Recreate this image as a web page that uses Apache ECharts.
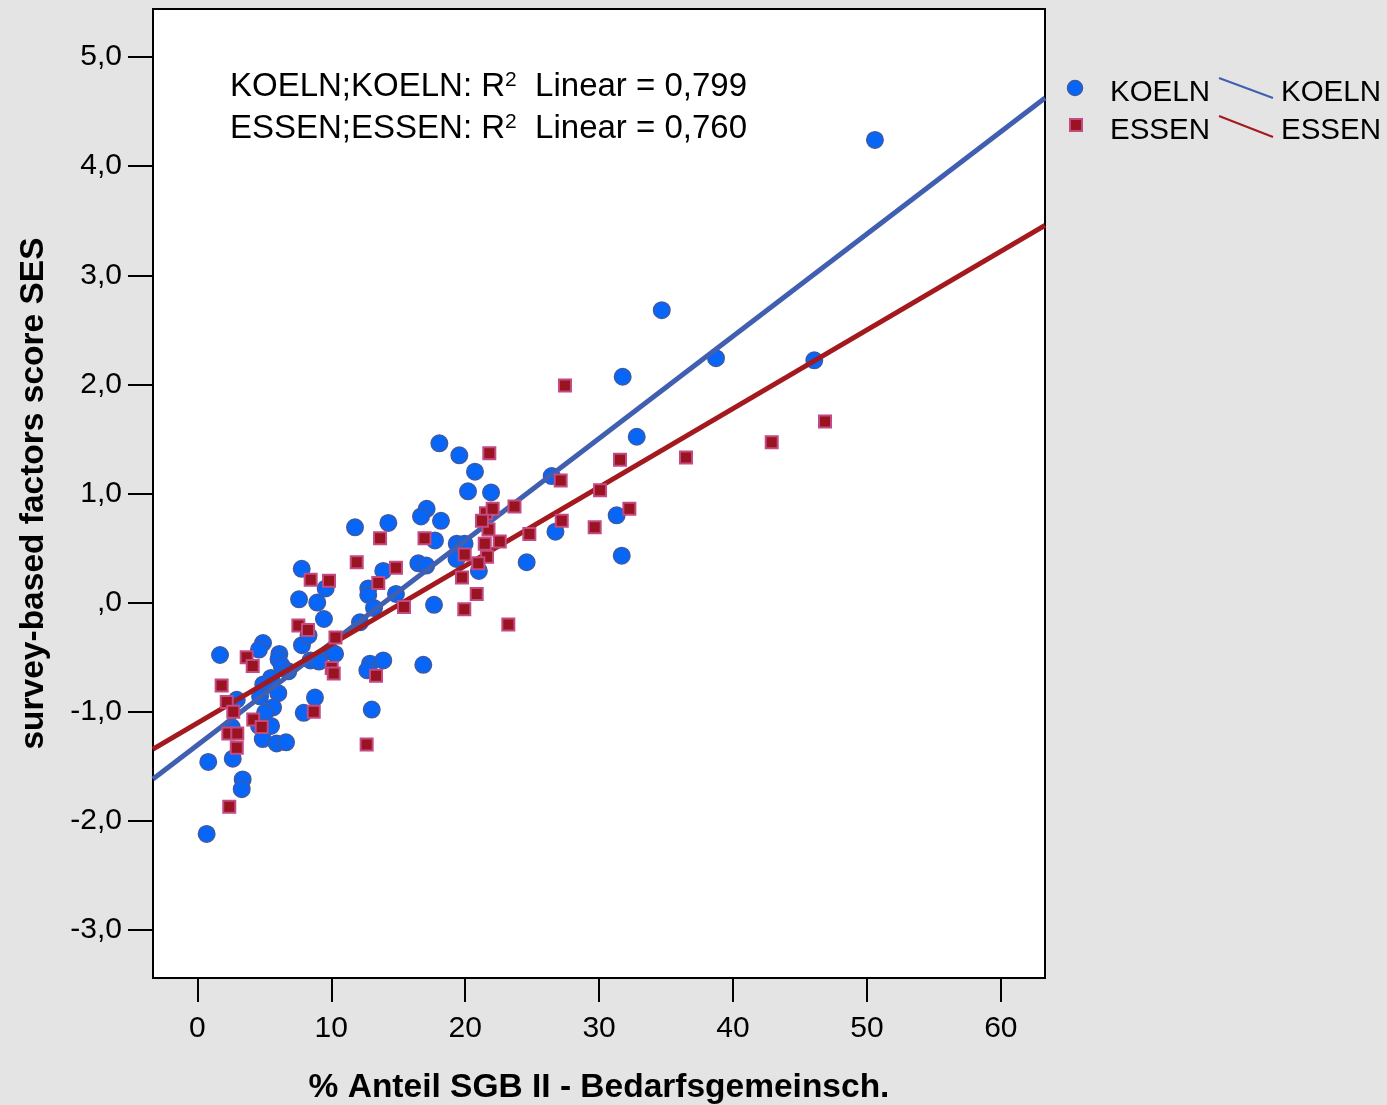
<!DOCTYPE html>
<html>
<head>
<meta charset="utf-8">
<title>SES score vs. SGB II share</title>
<script src="https://cdn.jsdelivr.net/npm/echarts@6/dist/echarts.min.js"></script>
<style>
  html, body { margin: 0; padding: 0; background: #e4e4e4; }
  #chart { width: 1387px; height: 1105px; }
</style>
</head>
<body>
<div id="chart"></div>
<script>
// KOELN districts: % share of SGB II households vs. survey-based SES factor score
const koelnX = [7.79, 9.58, 7.59, 8.95, 9.45, 1.69, 4.90, 4.60, 6.12, 6.06, 6.30, 7.81, 8.30, 9.98, 10.28,
  8.45, 9.08, 12.14, 6.79, 5.50, 4.92, 6.04, 4.68, 2.94, 8.78, 7.94, 5.65, 5.05, 2.56, 5.50,
  4.60, 4.88, 5.92, 6.62, 0.81, 2.64, 3.38, 3.31, 0.69, 17.12, 16.70, 18.19, 11.77, 14.26, 17.74,
  19.37, 19.95, 19.35, 16.50, 17.09, 13.88, 12.76, 12.76, 14.83, 17.67, 13.19, 12.89, 13.88, 12.69, 16.87,
  13.02, 18.07, 19.56, 20.73, 20.21, 21.93, 26.46, 32.81, 21.02, 24.59, 26.74, 31.31, 31.69, 34.68, 31.76,
  38.73, 46.07, 50.60];
const koelnY = [0.31, 0.13, 0.03, 0.00, -0.15, -0.48, -0.37, -0.43, -0.47, -0.52, -0.58, -0.39, -0.30, -0.45, -0.47,
  -0.53, -0.54, -0.18, -0.63, -0.69, -0.75, -0.83, -0.86, -0.89, -0.87, -1.01, -0.96, -1.01, -1.14, -1.13,
  -1.13, -1.25, -1.29, -1.28, -1.46, -1.43, -1.62, -1.71, -2.12, 0.86, 0.79, 0.75, 0.69, 0.73, 0.57,
  0.54, 0.54, 0.40, 0.36, 0.34, 0.29, 0.13, 0.07, 0.08, -0.02, -0.05, -0.56, -0.53, -0.62, -0.57,
  -0.98, 1.46, 1.35, 1.20, 1.02, 1.01, 1.16, 1.52, 0.29, 0.37, 0.65, 0.80, 0.43, 2.68, 2.07,
  2.24, 2.22, 4.24];

// ESSEN districts
const essenX = [11.90, 8.46, 9.83, 7.54, 8.26, 10.31, 3.68, 4.13, 10.03, 10.18, 1.81, 2.19, 2.68, 4.17, 4.80,
  8.69, 2.31, 2.98, 2.94, 2.38, 13.64, 16.96, 14.83, 13.51, 15.43, 13.34, 12.64, 21.80, 31.56, 27.13,
  30.07, 32.26, 21.55, 22.05, 23.68, 21.74, 21.25, 27.21, 29.67, 24.79, 22.58, 21.46, 19.96, 21.63, 20.98,
  19.76, 20.86, 19.93, 23.22, 27.45, 46.87, 42.89, 36.49];
const essenY = [0.37, 0.21, 0.20, -0.21, -0.25, -0.32, -0.50, -0.58, -0.60, -0.65, -0.76, -0.91, -1.00, -1.07, -1.14,
  -1.00, -1.20, -1.20, -1.33, -1.87, 0.59, 0.59, 0.32, 0.18, -0.04, -0.67, -1.30, 1.37, 1.31, 1.12,
  1.03, 0.86, 0.82, 0.86, 0.88, 0.67, 0.75, 0.75, 0.69, 0.63, 0.56, 0.54, 0.44, 0.42, 0.36,
  0.23, 0.08, -0.06, -0.20, 1.99, 1.66, 1.47, 1.33];

// Linear fits: [intercept, slope] and their R² values
const koelnFit = [-1.305, 0.09368];
const essenFit = [-1.103, 0.07204];
const fitR2 = ['0,799', '0,760'];

// Axis extents and ticks
const xRange = [-3.316, 63.3];
const yRange = [-3.44, 5.44];
const xTicks = [0, 10, 20, 30, 40, 50, 60];
const yTicks = [-3, -2, -1, 0, 1, 2, 3, 4, 5];
const yTickLabels = ['-3,0', '-2,0', '-1,0', ',0', '1,0', '2,0', '3,0', '4,0', '5,0'];

const groups = ['KOELN', 'ESSEN'];

const FONT = "'Liberation Sans', Arial, sans-serif";

const zip = (xs, ys) => xs.map((x, i) => [x, ys[i]]);
const fitLine = (f) => xRange.map(x => [x, f[0] + f[1] * x]);
const fitText = (g, r2) => g + ';' + g + ': R{sup|2}  Linear = ' + r2;

const BLUE_FILL = '#0766f7', BLUE_EDGE = '#3d5aa6', BLUE_LINE = '#405fb0';
const RED_FILL = '#9a1320', RED_EDGE = '#c34a82', RED_LINE = '#a3191d';

const fitTextStyle = (g, r2) => ({
  text: fitText(g, r2),
  font: '33px ' + FONT, fill: '#000',
  rich: {
    sup: { fontSize: 21, fontFamily: FONT, fill: '#000', verticalAlign: 'top', padding: [0, 0, 13, 0] }
  }
});

const chart = echarts.init(document.getElementById('chart'), null, { renderer: 'canvas' });

chart.setOption({
  backgroundColor: '#e4e4e4',
  animation: false,
  grid: {
    left: 153, top: 9, right: 342, bottom: 127,
    outerBoundsMode: 'none',
    show: true, backgroundColor: '#ffffff', borderColor: '#000000', borderWidth: 2
  },
  xAxis: {
    type: 'value', min: xRange[0], max: xRange[1],
    axisLine: { show: false, onZero: false },
    splitLine: { show: false },
    axisTick: { show: true, inside: false, length: 24, lineStyle: { color: '#000', width: 2 }, customValues: xTicks },
    axisLabel: { customValues: xTicks, margin: 36, fontSize: 30, color: '#000', fontFamily: FONT },
    name: '% Anteil SGB II - Bedarfsgemeinsch.',
    nameLocation: 'middle', nameGap: 93,
    nameTextStyle: { fontSize: 33.5, fontWeight: 'bold', color: '#000', fontFamily: FONT }
  },
  yAxis: {
    type: 'value', min: yRange[0], max: yRange[1],
    axisLine: { show: false, onZero: false },
    splitLine: { show: false },
    axisTick: { show: true, inside: false, length: 25, lineStyle: { color: '#000', width: 2 }, customValues: yTicks },
    axisLabel: {
      customValues: yTicks, margin: 31, fontSize: 30, color: '#000', fontFamily: FONT,
      formatter: (v) => yTickLabels[yTicks.indexOf(Math.round(v))]
    },
    name: 'survey-based factors score SES',
    nameLocation: 'middle', nameGap: 102, nameRotate: 90,
    nameTextStyle: { fontSize: 33.5, fontWeight: 'bold', color: '#000', fontFamily: FONT }
  },
  series: [
    {
      name: groups[0], type: 'scatter', z: 2,
      symbol: 'circle', symbolSize: 16.5,
      itemStyle: { color: BLUE_FILL, borderColor: BLUE_EDGE, borderWidth: 1.5, opacity: 1 },
      data: zip(koelnX, koelnY)
    },
    {
      name: groups[0] + ' fit', type: 'line', z: 3,
      symbol: 'none', silent: true,
      lineStyle: { color: BLUE_LINE, width: 5 },
      data: fitLine(koelnFit)
    },
    {
      name: groups[1] + ' fit', type: 'line', z: 4,
      symbol: 'none', silent: true,
      lineStyle: { color: RED_LINE, width: 5 },
      data: fitLine(essenFit)
    },
    {
      name: groups[1], type: 'scatter', z: 5,
      symbol: 'rect', symbolSize: 12,
      itemStyle: { color: RED_FILL, borderColor: RED_EDGE, borderWidth: 2, opacity: 1 },
      data: zip(essenX, essenY)
    }
  ],
  graphic: [
    // fit summary inside the plot
    { type: 'text', left: 230, top: 70, z: 10, style: fitTextStyle(groups[0], fitR2[0]) },
    { type: 'text', left: 230, top: 112, z: 10, style: fitTextStyle(groups[1], fitR2[1]) },
    // legend: markers
    { type: 'circle', shape: { cx: 1075, cy: 88, r: 7.5 }, z: 10,
      style: { fill: BLUE_FILL, stroke: BLUE_EDGE, lineWidth: 1.5 } },
    { type: 'rect', shape: { x: 1070, y: 119, width: 12, height: 12 }, z: 10,
      style: { fill: RED_FILL, stroke: RED_EDGE, lineWidth: 2 } },
    { type: 'text', x: 1110, y: 93, z: 10,
      style: { text: groups[0], font: '29.5px ' + FONT, fill: '#000', verticalAlign: 'middle' } },
    { type: 'text', x: 1110, y: 131, z: 10,
      style: { text: groups[1], font: '29.5px ' + FONT, fill: '#000', verticalAlign: 'middle' } },
    // legend: fit lines
    { type: 'line', shape: { x1: 1219, y1: 78, x2: 1273, y2: 98 }, z: 10,
      style: { stroke: BLUE_LINE, lineWidth: 2 } },
    { type: 'line', shape: { x1: 1219, y1: 116, x2: 1273, y2: 137 }, z: 10,
      style: { stroke: RED_LINE, lineWidth: 2 } },
    { type: 'text', x: 1281, y: 93, z: 10,
      style: { text: groups[0], font: '29.5px ' + FONT, fill: '#000', verticalAlign: 'middle' } },
    { type: 'text', x: 1281, y: 131, z: 10,
      style: { text: groups[1], font: '29.5px ' + FONT, fill: '#000', verticalAlign: 'middle' } }
  ]
});
</script>
</body>
</html>
